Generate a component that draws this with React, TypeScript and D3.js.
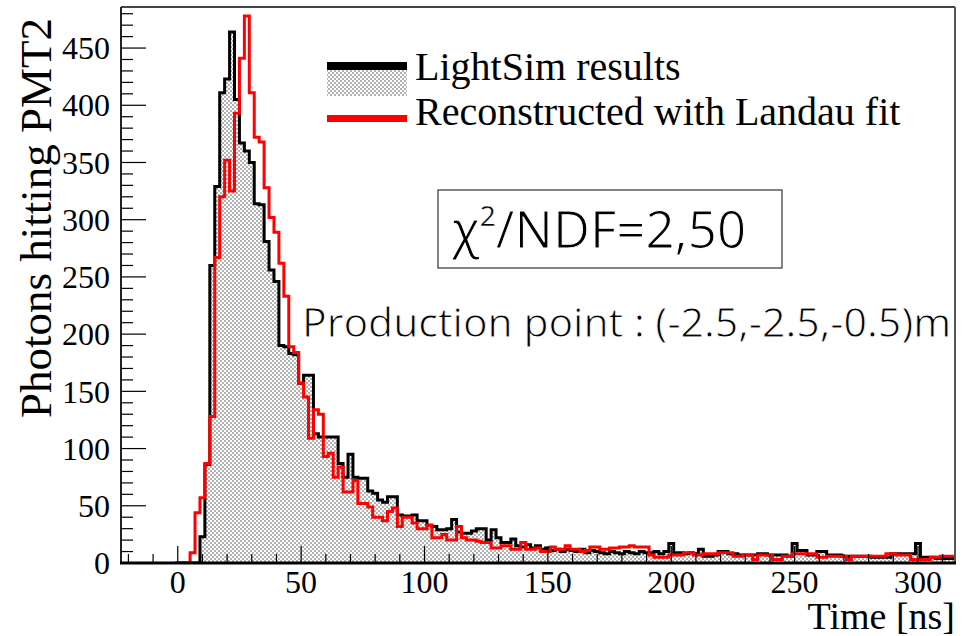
import * as d3 from "d3";

// histogram binning (ns)
const binStart = -1;
const binWidth = 2;

// LightSim results, bins from -1 ns up to ~120 ns
const lightSimHead = [
  0, 0, 0, 0, 0, 23, 86, 260, 329, 411, 423, 464, 405, 367, 360, 350, 314, 313, 281, 256,
  246, 190, 189, 183, 182, 157, 164, 164, 113, 110, 110, 110, 110, 87, 75, 95, 75, 74, 74, 63,
  61, 55, 53, 58, 58, 42, 41, 41, 42, 37, 37, 33, 32, 29, 29, 30, 38, 27, 26, 26, 28,
];
// LightSim results, tail from ~121 ns to 315 ns
const lightSimTail = [
  30, 30, 20, 29, 22, 18, 18, 21, 15, 14, 16, 13, 15, 12, 13, 11, 12, 10, 12, 11,
  10, 12, 9, 11, 10, 9, 8, 10, 9, 8, 10, 9, 8, 10, 9, 9, 10, 8, 10, 17,
  9, 9, 8, 9, 8, 12, 6, 6, 7, 10, 10, 8, 8, 7, 7, 7, 7, 8, 8, 7,
  7, 7, 7, 6, 17, 11, 11, 7, 7, 10, 10, 7, 7, 7, 6, 6, 6, 6, 6, 6,
  5, 5, 5, 5, 8, 8, 8, 8, 8, 17, 5, 5, 5, 4, 4, 4, 4,
];

// Reconstructed with Landau fit
const landauHead = [
  0, 0, 0, 9, 44, 57, 87, 128, 267, 320, 352, 325, 393, 441, 478, 411, 372, 368, 328, 302,
  289, 262, 233, 189, 184, 157, 145, 109, 134, 130, 93, 96, 75, 84, 62, 62, 72, 52, 52, 49,
  40, 40, 37, 45, 48, 32, 40, 40, 35, 30, 30, 33, 22, 22, 25, 20, 20, 32, 22, 20, 20,
];
const landauTail = [
  19, 18, 18, 13, 13, 15, 15, 12, 12, 18, 12, 12, 13, 10, 10, 14, 12, 12, 15, 12,
  12, 10, 11, 14, 14, 12, 12, 13, 13, 14, 14, 15, 14, 14, 14, 7, 5, 5, 5, 7,
  7, 7, 9, 9, 7, 7, 8, 8, 8, 9, 9, 9, 6, 6, 7, 7, 3, 7, 7, 7,
  3, 3, 6, 6, 8, 8, 8, 8, 8, 5, 5, 6, 6, 6, 6, 3, 6, 6, 6, 6,
  6, 6, 6, 8, 8, 7, 7, 7, 3, 3, 3, 3, 5, 5, 6, 6, 6,
];

const lightSim = lightSimHead.concat(lightSimTail);
const landau = landauHead.concat(landauTail);

const xMajor = d3.range(0, 301, 50);
const xMinor = d3.range(-20, 311, 10);
const yMajor = d3.range(0, 451, 50);
const yMinor = d3.range(0, 481, 10);

const W = 965;
const H = 636;
const frame = { left: 121, right: 955, top: 7, bottom: 563 };

const x = d3.scaleLinear().domain([-23, 315]).range([frame.left, frame.right]);
const y = d3.scaleLinear().domain([0, 485]).range([frame.bottom, frame.top + 1]);

function stepPoints(values: number[]): [number, number][] {
  const pts: [number, number][] = values.map((v, i) => [binStart + i * binWidth, v]);
  pts.push([binStart + values.length * binWidth, values[values.length - 1]]);
  return pts;
}

function outline(values: number[]) {
  const pts = [[binStart, 0] as [number, number]].concat(stepPoints(values));
  return d3
    .line<[number, number]>()
    .x((d) => x(d[0]))
    .y((d) => y(d[1]))
    .curve(d3.curveStepAfter)(pts) as string;
}

function fillArea(values: number[]) {
  return d3
    .area<[number, number]>()
    .x((d) => x(d[0]))
    .y0(y(0))
    .y1((d) => y(d[1]))
    .curve(d3.curveStepAfter)(stepPoints(values)) as string;
}

const serif = "'Liberation Serif', 'DejaVu Serif', serif";
const sans = "'Open Sans', 'Noto Sans', sans-serif";

export default function App() {
  return (
    <svg
      width={W}
      height={H}
      style={{ position: "absolute", left: 0, top: 0, background: "#fff" }}
    >
      <defs>
        <pattern id="dots" width="4" height="4" patternUnits="userSpaceOnUse">
          <rect width="4" height="4" fill="#fff" />
          <circle cx="1" cy="1" r="0.65" fill="#222" />
          <circle cx="3" cy="3" r="0.65" fill="#222" />
        </pattern>
        <clipPath id="plotClip">
          <rect x={frame.left} y={0} width={frame.right - frame.left} height={frame.bottom} />
        </clipPath>
      </defs>

      <g clipPath="url(#plotClip)">
        <path d={fillArea(lightSim)} fill="url(#dots)" stroke="none" />
        <path d={outline(lightSim)} fill="none" stroke="#000" strokeWidth={3} />
        <path d={outline(landau)} fill="none" stroke="#f00" strokeWidth={3} />
      </g>

      {/* frame */}
      <line x1={frame.left} x2={frame.right} y1={frame.top} y2={frame.top} stroke="#444" strokeWidth={2} />
      <line x1={frame.right} x2={frame.right} y1={frame.top} y2={frame.bottom} stroke="#555" strokeWidth={2} />
      <line x1={frame.left} x2={frame.left} y1={frame.top} y2={frame.bottom} stroke="#222" strokeWidth={2} />
      <line x1={frame.left - 1} x2={frame.right + 1} y1={frame.bottom} y2={frame.bottom} stroke="#000" strokeWidth={3} />

      {/* y ticks */}
      {yMinor.map((v) => (
        <line
          key={"ym" + v}
          x1={frame.left}
          x2={frame.left + (v % 50 === 0 ? 25 : 12)}
          y1={y(v)}
          y2={y(v)}
          stroke="#000"
          strokeWidth={1.2}
        />
      ))}
      {yMajor.map((v) => (
        <text
          key={"yl" + v}
          x={110}
          y={y(v)}
          dy="0.35em"
          textAnchor="end"
          fontFamily={serif}
          fontSize={32}
        >
          {v}
        </text>
      ))}

      {/* x ticks */}
      {xMinor.map((v) => (
        <line
          key={"xm" + v}
          x1={x(v)}
          x2={x(v)}
          y1={frame.bottom}
          y2={frame.bottom - (v % 50 === 0 ? 17 : 9)}
          stroke="#000"
          strokeWidth={1.2}
        />
      ))}
      {xMajor.map((v) => (
        <text key={"xl" + v} x={x(v)} y={593} textAnchor="middle" fontFamily={serif} fontSize={32}>
          {v}
        </text>
      ))}

      {/* axis titles */}
      <text x={955} y={629} textAnchor="end" fontFamily={serif} fontSize={38}>
        Time [ns]
      </text>
      <text
        transform="translate(51,18) rotate(-90)"
        textAnchor="end"
        fontFamily={serif}
        fontSize={45}
      >
        Photons hitting PMT2
      </text>

      {/* legend */}
      <rect x={327} y={66} width={80} height={30} fill="url(#dots)" />
      <rect x={327} y={62} width={80} height={8} fill="#000" />
      <rect x={327} y={115} width={80} height={7} fill="#f00" />
      <text x={415} y={80} fontFamily={serif} fontSize={40}>
        LightSim results
      </text>
      <text x={415} y={125} fontFamily={serif} fontSize={40}>
        Reconstructed with Landau fit
      </text>

      {/* annotations */}
      <rect x={438} y={190} width={344} height={78} fill="#fff" stroke="#333" strokeWidth={1.2} />
      <text
        x={452}
        y={248}
        fontFamily={sans}
        fontSize={51}
        stroke="#fff"
        strokeWidth={1}
      >
        χ<tspan fontSize={28} dy={-22} strokeWidth={0.3}>2</tspan>
        <tspan dy={22}>/NDF=2,50</tspan>
      </text>
      <text
        x={302}
        y={337}
        fontFamily={sans}
        fontSize={41}
        stroke="#fff"
        strokeWidth={0.9}
      >
        Production point : (-2.5,-2.5,-0.5)m
      </text>
    </svg>
  );
}
